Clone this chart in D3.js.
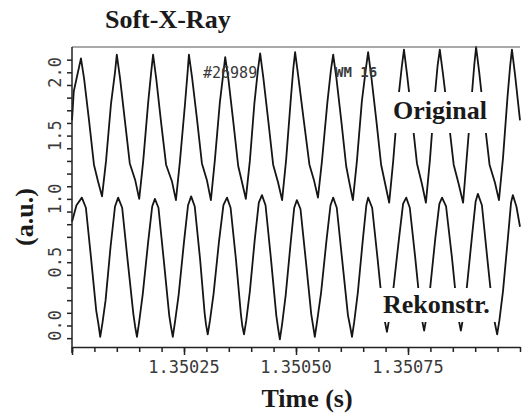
<!DOCTYPE html>
<html>
<head>
<meta charset="UTF-8">
<title>Soft-X-Ray</title>
<script src="https://d3js.org/d3.v7.min.js"></script>
<style>
  body { margin: 0; background: #fff; }
  .serif { font-family: "Liberation Serif", "DejaVu Serif", serif; font-weight: bold; fill: #1a1a1a; }
  .mono { font-family: "DejaVu Sans Mono", "Liberation Mono", monospace; fill: #3a3a3a; }
</style>
</head>
<body>
<div id="chart"></div>
<script>
// time in microseconds after 1.35 s, signal in a.u.
const origTime = [0, 4, 20, 27, 38, 49, 58, 67, 76, 87, 96,
  100, 107, 118, 129, 141, 150, 159, 170, 177,
  181, 188, 199, 210, 223, 232, 241, 252, 258,
  261, 268, 279, 290, 301, 310, 319, 330, 338,
  342, 349, 360, 371, 379, 388, 397, 407, 415,
  420, 427, 438, 449, 460, 469, 478, 488, 494,
  498, 505, 517, 530, 540, 549, 558, 570, 578,
  583, 590, 601, 612, 619, 627, 636, 647, 656,
  661, 668, 679, 690, 699, 708, 717, 728, 736,
  741, 748, 759, 770, 781, 790, 799, 809, 816,
  821, 828, 840, 852, 863, 873, 881, 892, 898,
  902, 909, 920, 932, 944, 953, 962, 972, 978,
  982, 989, 1000];
const origValue = [1.62, 1.85, 2.11, 1.95, 1.62, 1.27, 1.14, 1.02, 1.30, 1.75, 2.00,
  2.14, 1.96, 1.62, 1.28, 1.15, 1.00, 1.30, 1.76, 2.01,
  2.14, 1.95, 1.60, 1.27, 1.14, 0.99, 1.30, 1.74, 2.00,
  2.14, 1.96, 1.63, 1.28, 1.15, 0.99, 1.31, 1.76, 2.00,
  2.12, 1.95, 1.61, 1.26, 1.14, 1.00, 1.30, 1.75, 2.02,
  2.15, 1.96, 1.62, 1.27, 1.13, 0.99, 1.31, 1.77, 2.03,
  2.16, 1.97, 1.63, 1.27, 1.15, 1.01, 1.30, 1.76, 2.02,
  2.14, 1.96, 1.62, 1.26, 1.13, 0.99, 1.30, 1.77, 2.03,
  2.16, 1.97, 1.63, 1.27, 1.12, 0.97, 1.30, 1.78, 2.04,
  2.18, 1.98, 1.64, 1.28, 1.12, 0.97, 1.31, 1.78, 2.05,
  2.18, 1.99, 1.64, 1.27, 1.12, 0.97, 1.32, 1.80, 2.06,
  2.20, 2.00, 1.64, 1.27, 1.13, 0.99, 1.32, 1.80, 2.05,
  2.18, 1.98, 1.62];

const rekTime = [0, 10, 22, 31, 42, 54, 59, 63, 68, 75, 86, 96,
  103, 112, 124, 137, 141, 145, 150, 158, 170, 179,
  185, 193, 205, 217, 221, 225, 230, 238, 250, 259,
  266, 274, 286, 296, 299, 303, 308, 316, 328, 338,
  346, 354, 366, 377, 380, 384, 389, 397, 408, 417,
  424, 432, 444, 456, 460, 464, 469, 477, 488, 496,
  502, 510, 522, 534, 538, 542, 547, 556, 568, 577,
  583, 591, 603, 616, 621, 625, 630, 638, 649, 657,
  661, 670, 682, 694, 699, 703, 708, 717, 730, 739,
  746, 754, 766, 778, 782, 786, 791, 799, 811, 820,
  826, 835, 848, 860, 864, 868, 873, 881, 893, 901,
  906, 915, 927, 940, 945, 949, 954, 962, 973, 980,
  984, 992, 1000];
const rekValue = [0.82, 0.95, 1.01, 0.93, 0.55, 0.12, 0.01, -0.09, 0.02, 0.20, 0.62, 0.94,
  1.01, 0.93, 0.52, 0.09, -0.01, -0.09, 0.03, 0.25, 0.66, 0.94,
  1.00, 0.93, 0.51, 0.08, -0.01, -0.09, 0.03, 0.24, 0.66, 0.95,
  1.02, 0.94, 0.52, 0.10, 0.01, -0.07, 0.04, 0.25, 0.66, 0.95,
  1.01, 0.93, 0.52, 0.09, 0.00, -0.07, 0.04, 0.27, 0.68, 0.97,
  1.03, 0.95, 0.53, 0.08, -0.02, -0.11, 0.01, 0.24, 0.65, 0.93,
  0.99, 0.92, 0.51, 0.09, 0.00, -0.09, 0.03, 0.26, 0.67, 0.95,
  1.01, 0.93, 0.52, 0.08, -0.01, -0.09, 0.03, 0.26, 0.67, 0.95,
  1.01, 0.93, 0.53, 0.11, 0.02, -0.05, 0.05, 0.28, 0.69, 0.96,
  1.01, 0.93, 0.54, 0.12, 0.03, -0.04, 0.06, 0.28, 0.69, 0.96,
  1.01, 0.94, 0.54, 0.12, 0.03, -0.04, 0.06, 0.29, 0.71, 0.98,
  1.04, 0.95, 0.53, 0.09, 0.00, -0.07, 0.04, 0.27, 0.69, 0.97,
  1.03, 0.94, 0.78];

const xMajor = [1.35025, 1.3505, 1.35075];
const xTickLabels = ["1.35025", "1.35050", "1.35075"];
const yMajor = [0, 0.5, 1, 1.5, 2];
const yTickLabels = ["0.0", "0.5", "1.0", "1.5", "2.0"];

const width = 522, height = 413;
const margin = { top: 47, right: 2, bottom: 66, left: 72 };

const svg = d3.select("#chart").append("svg")
  .attr("width", width).attr("height", height);

const x = d3.scaleLinear().domain([1.35, 1.351]).range([margin.left, width - margin.right]);
const y = d3.scaleLinear().domain([-0.17, 2.2]).range([height - margin.bottom, margin.top]);

// traces
const line = d3.line().x(d => x(1.35 + d[0] * 1e-6)).y(d => y(d[1]));
const orig = origTime.map((t, i) => [t, origValue[i]]);
const rek = rekTime.map((t, i) => [t, rekValue[i]]);

[orig, rek].forEach(s => {
  svg.append("path").datum(s)
    .attr("d", line)
    .attr("fill", "none")
    .attr("stroke", "#151515")
    .attr("stroke-width", 1.8)
    .attr("stroke-linejoin", "round");
});

// top frame line
svg.append("line")
  .attr("x1", margin.left).attr("x2", width - margin.right)
  .attr("y1", margin.top).attr("y2", margin.top)
  .attr("stroke", "#555").attr("stroke-width", 1.2);

// x axis
const xMinor = d3.range(0, 21).map(i => 1.35 + i * 0.00005);
const gx = svg.append("g")
  .attr("transform", `translate(0,${height - margin.bottom})`)
  .call(d3.axisBottom(x).tickValues(xMinor).tickSize(5).tickSizeOuter(0).tickFormat(""));
gx.append("g").call(d3.axisBottom(x).tickValues([1.35].concat(xMajor)).tickSize(8).tickSizeOuter(0).tickFormat(""));
gx.selectAll("path,line").attr("stroke", "#222").attr("stroke-width", 1.5);
gx.selectAll("g > path").filter((d, i) => i > 0).remove();

svg.selectAll(".xlab").data(xMajor).enter().append("text")
  .attr("class", "mono")
  .attr("x", d => x(d)).attr("y", 373)
  .attr("text-anchor", "middle")
  .attr("font-size", 17)
  .text((d, i) => xTickLabels[i]);

// y axis
const yMinor = d3.range(-1, 22).map(i => i / 10);
const gy = svg.append("g")
  .attr("transform", `translate(${margin.left},0)`)
  .call(d3.axisLeft(y).tickValues(yMinor).tickSize(5).tickSizeOuter(0).tickFormat(""));
gy.select("path").attr("d", `M0,${margin.top}V${height - margin.bottom + 6}`);
gy.selectAll("path,line").attr("stroke", "#222").attr("stroke-width", 1.5);

svg.selectAll(".ylab").data(yMajor).enter().append("text")
  .attr("class", "mono")
  .attr("transform", d => `translate(61,${y(d)}) rotate(-90)`)
  .attr("text-anchor", "middle")
  .attr("font-size", 17)
  .text((d, i) => yTickLabels[i]);

// series labels with white box
[["Original", 1.62, 390, 92, 102, 41, 393, 119], ["Rekonstr.", 0.0, 379, 288, 117, 34, 383, 313]]
  .forEach(l => {
    svg.append("rect").attr("x", l[2]).attr("y", l[3]).attr("width", l[4]).attr("height", l[5]).attr("fill", "#fff");
    svg.append("text").attr("class", "serif").attr("x", l[6]).attr("y", l[7])
      .attr("font-size", 26).text(l[0]);
  });

// shot annotations
svg.append("text").attr("class", "mono").attr("x", 203).attr("y", 78)
  .attr("font-size", 15).attr("fill", "#555").text("#26989");
svg.append("text").attr("class", "mono").attr("x", 335).attr("y", 77)
  .attr("font-size", 14).attr("font-weight", "bold").text("WM 16");

// titles
svg.append("text").attr("class", "serif").attr("x", 105).attr("y", 28)
  .attr("font-size", 26).text("Soft-X-Ray");
svg.append("text").attr("class", "serif").attr("x", 307).attr("y", 407)
  .attr("text-anchor", "middle").attr("font-size", 26).text("Time (s)");
svg.append("text").attr("class", "serif")
  .attr("transform", "translate(33,217) rotate(-90)")
  .attr("text-anchor", "middle").attr("font-size", 26).text("(a.u.)");
</script>
</body>
</html>
